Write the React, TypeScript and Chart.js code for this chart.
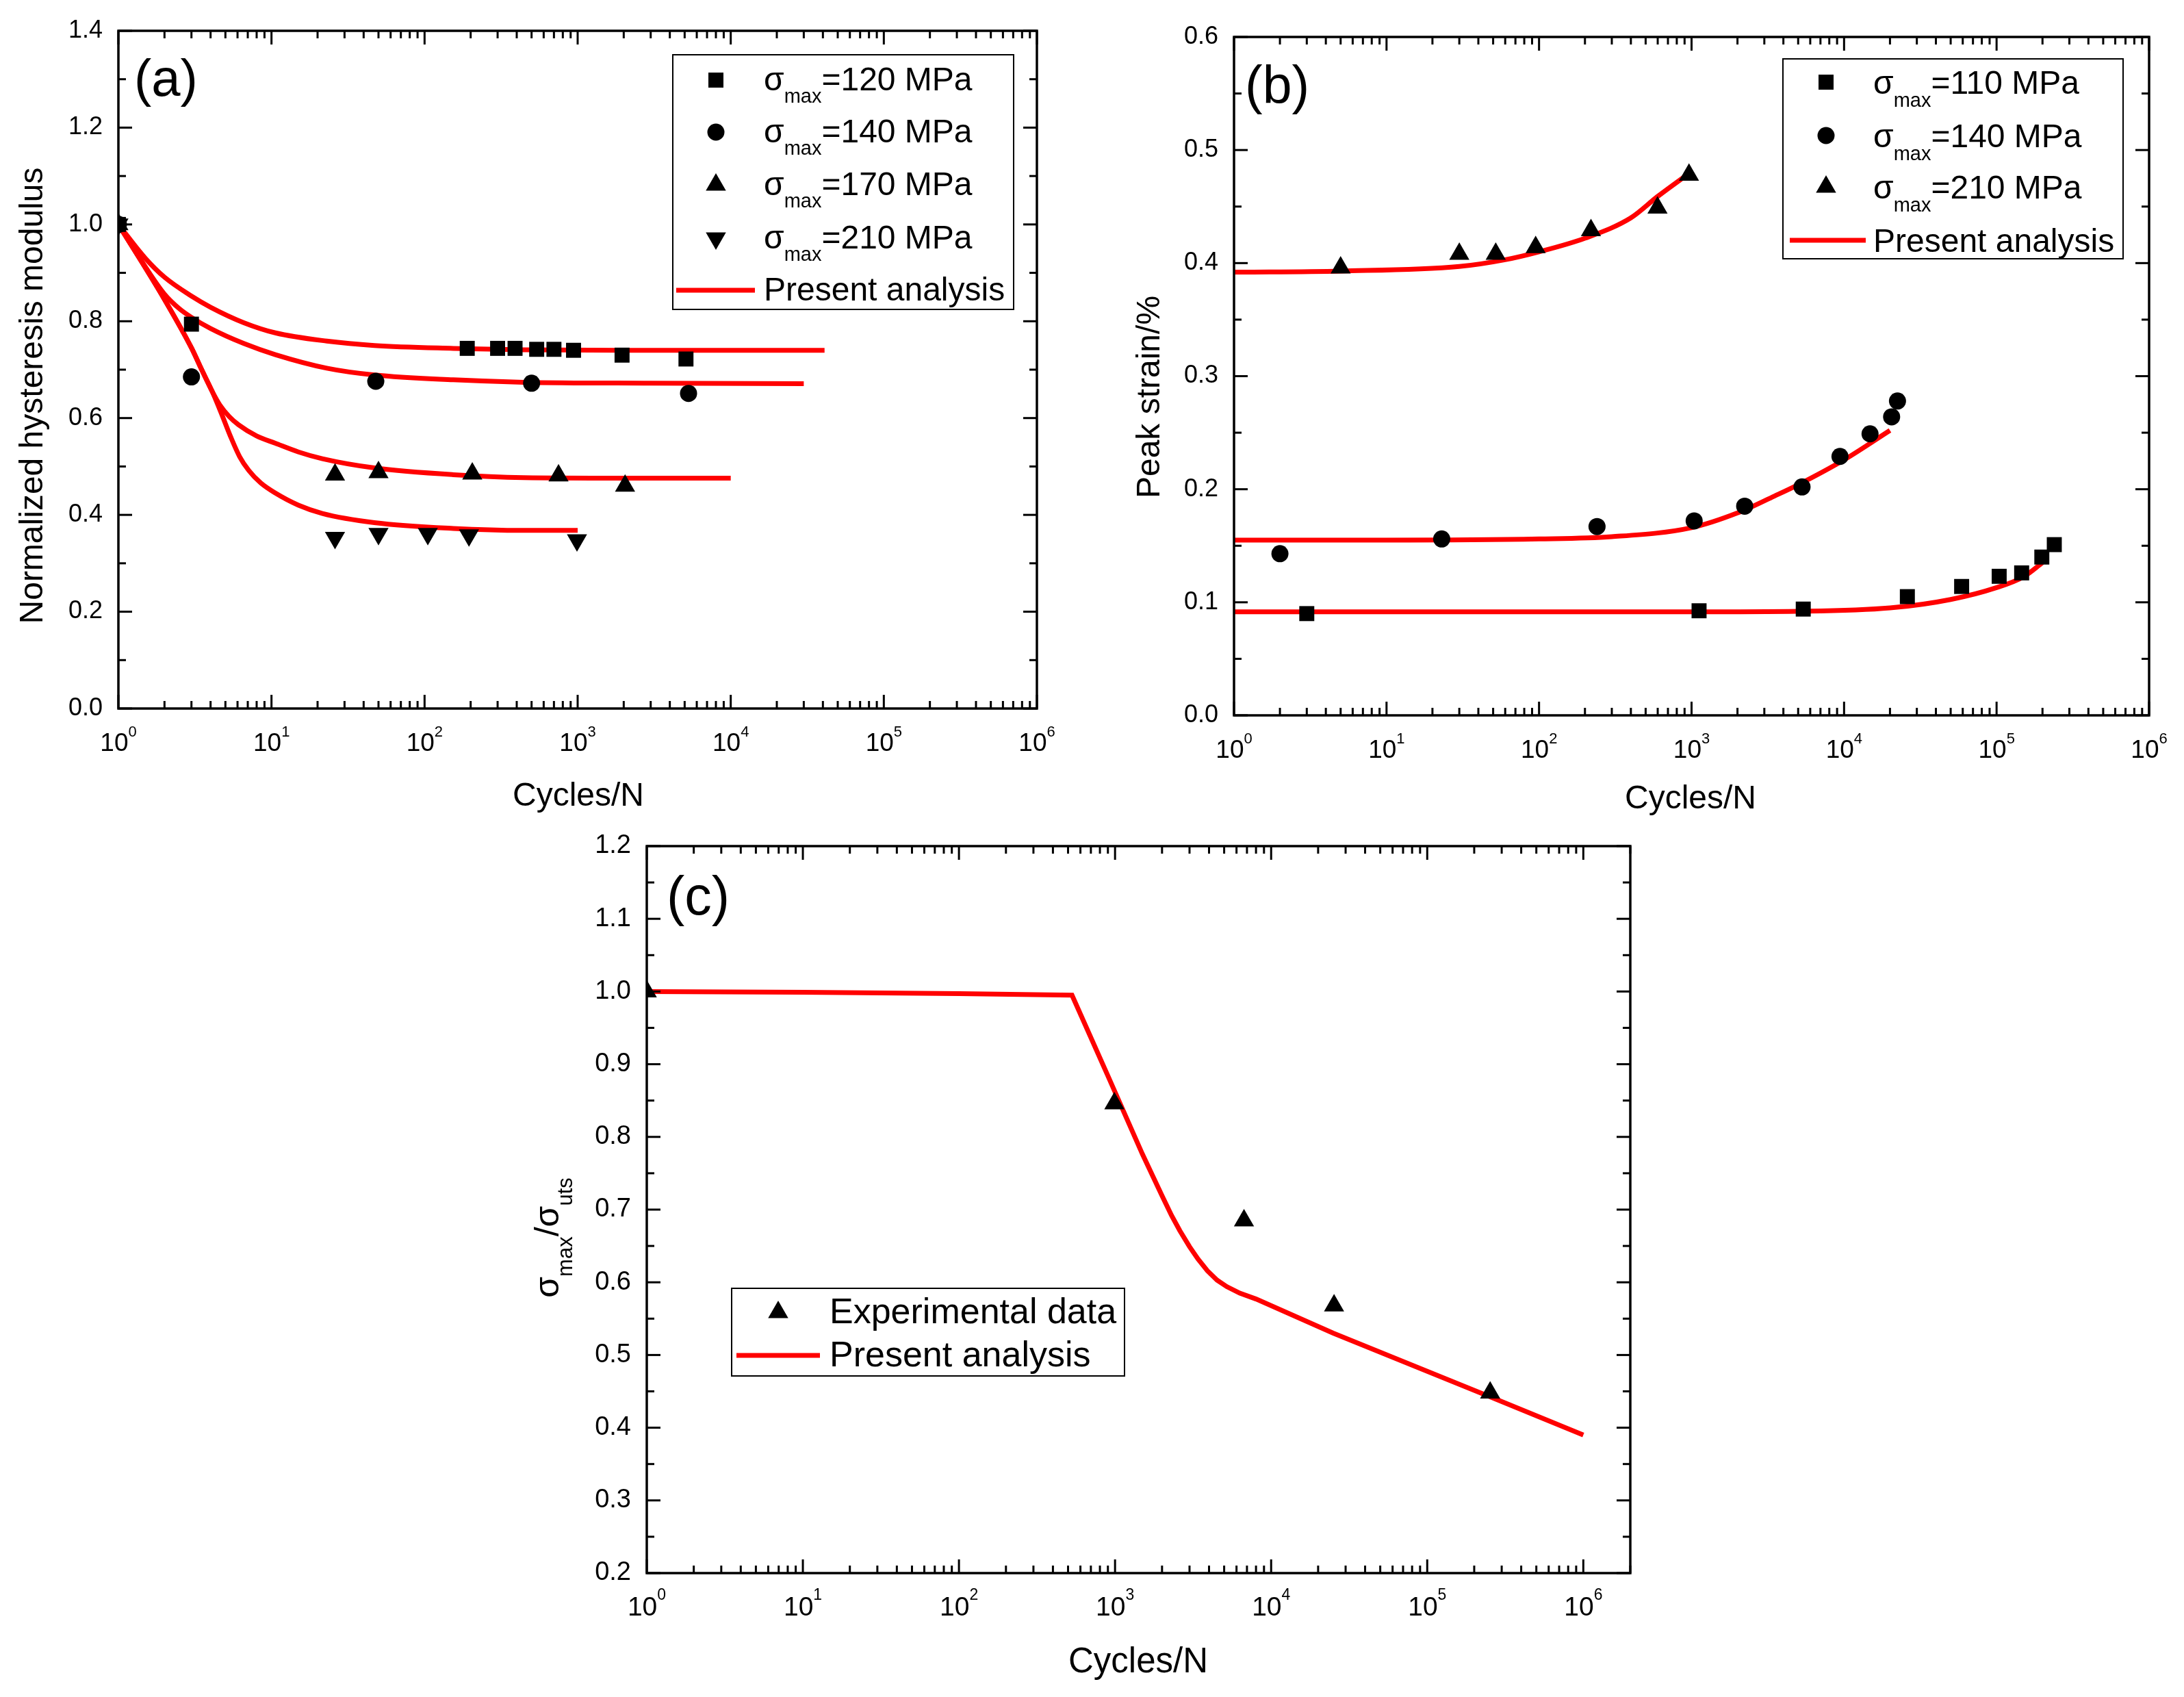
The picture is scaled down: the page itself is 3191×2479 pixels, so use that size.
import { useEffect, useRef } from 'react';
import { Chart, registerables } from 'chart.js';
Chart.register(...registerables);

const W = 3191;
const H = 2479;
const FONT = "'Liberation Sans', Arial, Helvetica, sans-serif";
const RED = '#ff0000';

// x axis decades (tick labels 10^0 .. 10^6)
const xDecades = [1, 10, 100, 1e3, 1e4, 1e5, 1e6];

// ---------- (a) normalized hysteresis modulus ----------
const aN120 = [1, 3, 190, 300, 390, 540, 700, 940, 1950, 5100];
const aE120 = [1.0, 0.794, 0.744, 0.744, 0.744, 0.742, 0.742, 0.740, 0.730, 0.722];
const aN140 = [1, 3, 48, 500, 5300];
const aE140 = [1.0, 0.685, 0.676, 0.672, 0.651];
const aN170 = [1, 26, 50, 205, 750, 2040];
const aE170 = [1.0, 0.483, 0.488, 0.485, 0.481, 0.460];
const aN210 = [1, 26, 50, 105, 195, 990];
const aE210 = [1.0, 0.353, 0.361, 0.361, 0.358, 0.348];

const aFitN120 = [1, 1.5, 2, 3, 4, 6.6, 10.6, 23, 47, 154, 443, 2000, 10000, 41000];
const aFitE120 = [1.0, 0.93, 0.891, 0.852, 0.829, 0.797, 0.776, 0.759, 0.75, 0.744, 0.741, 0.74, 0.74, 0.74];
const aFitN140 = [1, 1.4, 2, 2.5, 3, 4, 6.6, 10.6, 23, 47, 154, 443, 3000, 30000];
const aFitE140 = [1.0, 0.927, 0.856, 0.826, 0.808, 0.785, 0.754, 0.731, 0.703, 0.689, 0.679, 0.674, 0.672, 0.671];
const aFitN170 = [1, 2, 3, 3.5, 4.1, 4.6, 5.3, 6.1, 8, 10.6, 15, 21.5, 47, 154, 443, 2000, 10000];
const aFitE170 = [1.0, 0.845, 0.745, 0.7, 0.655, 0.627, 0.603, 0.586, 0.563, 0.548, 0.53, 0.516, 0.497, 0.483, 0.477, 0.476, 0.476];
const aFitN210 = [1, 2, 3, 3.5, 4.1, 4.7, 5.4, 6.2, 7.1, 8.5, 10.6, 15, 21.5, 47, 154, 443, 1000];
const aFitE210 = [1.0, 0.845, 0.745, 0.7, 0.655, 0.61, 0.562, 0.52, 0.492, 0.466, 0.445, 0.42, 0.403, 0.384, 0.372, 0.368, 0.368];

// ---------- (b) peak strain ----------
const bN110 = [3, 1120, 5400, 26000, 59000, 104000, 146000, 198000, 239000];
const bS110 = [0.09, 0.0925, 0.094, 0.105, 0.114, 0.123, 0.126, 0.14, 0.151];
const bN140 = [2, 23, 240, 1040, 2230, 5300, 9400, 14800, 20500, 22400];
const bS140 = [0.143, 0.156, 0.167, 0.172, 0.185, 0.202, 0.229, 0.249, 0.264, 0.278];
const bN210 = [5, 30, 52, 95, 219, 598, 962];
const bS210 = [0.396, 0.408, 0.408, 0.414, 0.429, 0.449, 0.478];

const bFitN110 = [1, 100, 1000, 5000, 20000, 50000, 100000, 150000, 200000];
const bFitS110 = [0.0915, 0.0915, 0.0915, 0.092, 0.095, 0.1025, 0.113, 0.1225, 0.135];
const bFitN140 = [1, 10, 100, 300, 1000, 2000, 3500, 5000, 10000, 20000];
const bFitS140 = [0.155, 0.155, 0.156, 0.158, 0.166, 0.179, 0.194, 0.204, 0.226, 0.252];
const bFitN210 = [1, 5, 30, 60, 100, 200, 400, 600, 1000];
const bFitS210 = [0.392, 0.393, 0.397, 0.403, 0.41, 0.422, 0.44, 0.459, 0.481];

// ---------- (c) S-N ----------
const cN = [1, 990, 6700, 25300, 253000];
const cR = [1.0, 0.846, 0.685, 0.568, 0.448];
const cFitN = [1, 10, 100, 530, 900, 1500, 2000, 2300, 2600, 3000, 3400, 3900, 4500, 5200, 6300, 8000, 25000, 250000, 1000000];
const cFitR = [1.0, 0.999, 0.997, 0.995, 0.884, 0.776, 0.719, 0.692, 0.671, 0.649, 0.632, 0.616, 0.603, 0.594, 0.585, 0.577, 0.53, 0.443, 0.39];

type Seg = [string, number, number]; // text, font size, baseline shift

const pts = (xs: number[], ys: number[]) => xs.map((x, i) => ({ x, y: ys[i] }));

const dots = (xs: number[], ys: number[], style: string, rot = 0) => ({
  data: pts(xs, ys),
  showLine: false,
  pointStyle: style,
  pointRotation: rot,
  pointRadius: style === 'rect' ? 15.5 : style === 'circle' ? 12.5 : 17,
  pointBackgroundColor: '#000',
  pointBorderColor: '#000',
  pointBorderWidth: 0,
  order: 0,
});

const fit = (xs: number[], ys: number[], smooth = true) => ({
  data: pts(xs, ys),
  showLine: true,
  borderColor: RED,
  borderWidth: 7,
  pointRadius: 0,
  cubicInterpolationMode: smooth ? 'monotone' : 'default',
  tension: 0,
  fill: false,
  order: 1,
});

function drawRich(ctx: CanvasRenderingContext2D, segs: Seg[], x: number, y: number, align: 'left' | 'center') {
  let total = 0;
  for (const [t, s] of segs) {
    ctx.font = `${s}px ${FONT}`;
    total += ctx.measureText(t).width;
  }
  let cx = align === 'center' ? x - total / 2 : x;
  ctx.textAlign = 'left';
  ctx.textBaseline = 'alphabetic';
  for (const [t, s, dy] of segs) {
    ctx.font = `${s}px ${FONT}`;
    ctx.fillText(t, cx, y + dy);
    cx += ctx.measureText(t).width;
  }
}

function mark(ctx: CanvasRenderingContext2D, kind: string, x: number, y: number) {
  ctx.fillStyle = '#000';
  ctx.beginPath();
  if (kind === 'rect') ctx.rect(x - 11, y - 11, 22, 22);
  else if (kind === 'circle') ctx.arc(x, y, 12.5, 0, Math.PI * 2);
  else {
    const r = 17;
    const s = kind === 'tri' ? 1 : -1;
    ctx.moveTo(x, y - s * r);
    ctx.lineTo(x + r * 0.866, y + (s * r) / 2);
    ctx.lineTo(x - r * 0.866, y + (s * r) / 2);
    ctx.closePath();
  }
  ctx.fill();
}

const sig = (rest: string, big: number, small: number, dy: number): Seg[] => [
  ['σ', big, 0],
  ['max', small, dy],
  [rest, big, 0],
];

const panels = [
  {
    area: [173, 45, 1515, 1035],
    xMax: 1e6, yMin: 0, yMax: 1.4, yMajor: 0.2, yMinor: 0.1,
    tickFont: 36, xBase: 37, xExp: 22, xRise: 21,
    tag: '(a)', tagPos: [196, 140], tagFont: 76,
    yTitle: [['Normalized hysteresis modulus', 48, 0]] as Seg[], yTitlePos: [62, 578],
    xTitle: 'Cycles/N', xTitlePos: [845, 1177], xTitleFont: 48,
    legend: {
      box: [983, 80, 1481, 452], markX: 1046, textX: 1116, line: [988, 1103], base: 15,
      rows: [
        { kind: 'rect', y: 117, segs: sig('=120 MPa', 48, 29, 18) },
        { kind: 'circle', y: 193, segs: sig('=140 MPa', 48, 29, 18) },
        { kind: 'tri', y: 270, segs: sig('=170 MPa', 48, 29, 18) },
        { kind: 'inv', y: 348, segs: sig('=210 MPa', 48, 29, 18) },
        { kind: 'line', y: 424, segs: [['Present analysis', 48, 0]] as Seg[] },
      ],
    },
    datasets: [
      dots(aN120, aE120, 'rect'),
      dots(aN140, aE140, 'circle'),
      dots(aN170, aE170, 'triangle'),
      dots(aN210, aE210, 'triangle', 180),
      fit(aFitN120, aFitE120),
      fit(aFitN140, aFitE140),
      fit(aFitN170, aFitE170),
      fit(aFitN210, aFitE210),
    ],
  },
  {
    area: [1803, 54, 3140, 1045],
    xMax: 1e6, yMin: 0, yMax: 0.6, yMajor: 0.1, yMinor: 0.05,
    tickFont: 36, xBase: 37, xExp: 22, xRise: 21,
    tag: '(b)', tagPos: [1819, 151], tagFont: 77,
    yTitle: [['Peak strain/%', 48, 0]] as Seg[], yTitlePos: [1694, 580],
    xTitle: 'Cycles/N', xTitlePos: [2470, 1181], xTitleFont: 48,
    legend: {
      box: [2605, 86, 3102, 378], markX: 2668, textX: 2737, line: [2615, 2726], base: 17,
      rows: [
        { kind: 'rect', y: 120, segs: sig('=110 MPa', 48, 29, 19) },
        { kind: 'circle', y: 198, segs: sig('=140 MPa', 48, 29, 19) },
        { kind: 'tri', y: 273, segs: sig('=210 MPa', 48, 29, 19) },
        { kind: 'line', y: 351, segs: [['Present analysis', 48, 0]] as Seg[] },
      ],
    },
    datasets: [
      dots(bN110, bS110, 'rect'),
      dots(bN140, bS140, 'circle'),
      dots(bN210, bS210, 'triangle'),
      fit(bFitN110, bFitS110),
      fit(bFitN140, bFitS140),
      fit(bFitN210, bFitS210),
    ],
  },
  {
    area: [945, 1236, 2382, 2298],
    xMax: 2e6, yMin: 0.2, yMax: 1.2, yMajor: 0.1, yMinor: 0.05,
    tickFont: 38, xBase: 39, xExp: 23, xRise: 23,
    tag: '(c)', tagPos: [974, 1336], tagFont: 79,
    yTitle: [['σ', 50, 0], ['max', 31, 20], ['/σ', 50, 0], ['uts', 31, 20]] as Seg[], yTitlePos: [816, 1808],
    xTitle: 'Cycles/N', xTitlePos: [1663, 2443], xTitleFont: 51,
    legend: {
      box: [1069, 1882, 1643, 2010], markX: 1137, textX: 1212, line: [1076, 1198], base: 16,
      rows: [
        { kind: 'tri', y: 1917, segs: [['Experimental data', 52, 0]] as Seg[] },
        { kind: 'line', y: 1980, segs: [['Present analysis', 52, 0]] as Seg[] },
      ],
    },
    datasets: [dots(cN, cR, 'triangle'), fit(cFitN, cFitR, false)],
  },
];

type Panel = (typeof panels)[number];

function decor(p: Panel) {
  return {
    id: 'decor',
    afterDraw(chart: any) {
      const ctx: CanvasRenderingContext2D = chart.ctx;
      const { left, top, right, bottom } = chart.chartArea;
      const xs = chart.scales.x;
      const ys = chart.scales.y;
      const seg = (x1: number, y1: number, x2: number, y2: number) => {
        ctx.beginPath();
        ctx.moveTo(x1, y1);
        ctx.lineTo(x2, y2);
        ctx.stroke();
      };
      ctx.save();
      ctx.strokeStyle = '#000';
      ctx.lineWidth = 3;
      // log x ticks, inward on bottom and top
      for (const d of xDecades) {
        for (let m = 1; m < 10; m++) {
          const v = m * d;
          if (v > xs.max * 1.0001) break;
          const px = xs.getPixelForValue(v);
          const len = m === 1 ? 20 : 11;
          seg(px, bottom, px, bottom - len);
          seg(px, top, px, top + len);
        }
      }
      // y ticks, inward on left and right
      const steps = Math.round((ys.max - ys.min) / p.yMinor);
      const every = Math.round(p.yMajor / p.yMinor);
      for (let i = 0; i <= steps; i++) {
        const py = ys.getPixelForValue(ys.min + i * p.yMinor);
        const len = i % every === 0 ? 20 : 11;
        seg(left, py, left + len, py);
        seg(right, py, right - len, py);
      }
      ctx.lineWidth = 3.5;
      ctx.strokeRect(left, top, right - left, bottom - top);

      ctx.fillStyle = '#000';
      // x tick labels 10^n
      for (const t of xs.ticks) {
        const e = Math.round(Math.log10(t.value));
        drawRich(ctx, [['10', p.xBase, 0], [String(e), p.xExp, -p.xRise]], xs.getPixelForValue(t.value), bottom + 62, 'center');
      }
      // panel tag
      drawRich(ctx, [[p.tag, p.tagFont, 0]], p.tagPos[0], p.tagPos[1], 'left');
      // axis titles
      drawRich(ctx, [[p.xTitle, p.xTitleFont, 0]], p.xTitlePos[0], p.xTitlePos[1], 'center');
      ctx.save();
      ctx.translate(p.yTitlePos[0], p.yTitlePos[1]);
      ctx.rotate(-Math.PI / 2);
      drawRich(ctx, p.yTitle, 0, 0, 'center');
      ctx.restore();

      // legend
      const lg = p.legend;
      ctx.lineWidth = 2;
      ctx.strokeStyle = '#000';
      ctx.strokeRect(lg.box[0], lg.box[1], lg.box[2] - lg.box[0], lg.box[3] - lg.box[1]);
      for (const r of lg.rows) {
        if (r.kind === 'line') {
          ctx.strokeStyle = RED;
          ctx.lineWidth = 7;
          seg(lg.line[0], r.y, lg.line[1], r.y);
        } else {
          mark(ctx, r.kind, lg.markX, r.y);
        }
        ctx.fillStyle = '#000';
        drawRich(ctx, r.segs, lg.textX, r.y + lg.base, 'left');
      }
      ctx.restore();
    },
  };
}

function PanelChart({ p }: { p: Panel }) {
  const ref = useRef<HTMLCanvasElement>(null);

  useEffect(() => {
    const [L, T, R, B] = p.area;
    const chart = new Chart(ref.current!, {
      type: 'scatter',
      data: { datasets: p.datasets as any },
      plugins: [decor(p)],
      options: {
        animation: false,
        responsive: false,
        devicePixelRatio: 1,
        layout: { padding: { left: L - 120, top: T, right: W - R, bottom: H - B - 60 } },
        plugins: { legend: { display: false }, tooltip: { enabled: false } },
        scales: {
          x: {
            type: 'logarithmic',
            min: 1,
            max: p.xMax,
            grid: { display: false, drawTicks: false },
            border: { display: false },
            ticks: { display: false },
            afterBuildTicks: (s: any) => {
              s.ticks = xDecades.filter(v => v <= s.max).map(v => ({ value: v }));
            },
            afterFit: (s: any) => { s.height = 60; },
          },
          y: {
            type: 'linear',
            min: p.yMin,
            max: p.yMax,
            grid: { display: false, drawTicks: false },
            border: { display: false },
            ticks: {
              stepSize: p.yMajor,
              padding: 23,
              color: '#000',
              font: { family: FONT, size: p.tickFont },
              callback: (v: any) => Number(v).toFixed(1),
            },
            afterFit: (s: any) => { s.width = 120; },
          },
        },
      } as any,
    });
    return () => chart.destroy();
  }, [p]);

  return (
    <canvas
      ref={ref}
      width={W}
      height={H}
      style={{ position: 'absolute', left: 0, top: 0, width: W, height: H }}
    />
  );
}

export default function App() {
  return (
    <div style={{ position: 'absolute', left: 0, top: 0, width: W, height: H, background: '#fff', overflow: 'hidden' }}>
      {panels.map((p, i) => (
        <PanelChart key={i} p={p} />
      ))}
    </div>
  );
}
